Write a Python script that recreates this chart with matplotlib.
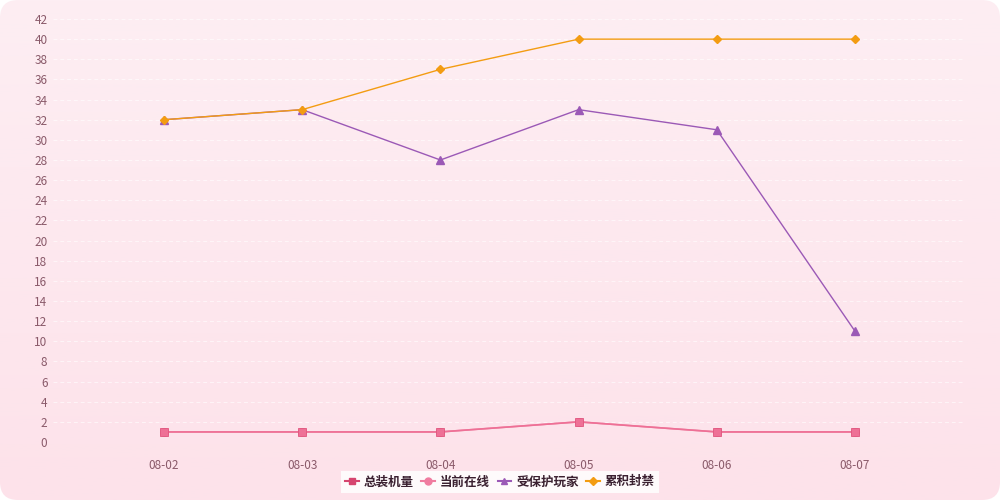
import numpy as np
import matplotlib
matplotlib.use("Agg")
import matplotlib.pyplot as plt
from matplotlib.patches import FancyBboxPatch
from matplotlib.lines import Line2D

plt.rcParams['font.family'] = ['Noto Sans CJK SC', 'DejaVu Sans']

dates = ["08-02", "08-03", "08-04", "08-05", "08-06", "08-07"]
total_installs = [1, 1, 1, 2, 1, 1]
online_now = [1, 1, 1, 2, 1, 1]
protected_players = [32, 33, 28, 33, 31, 11]
cumulative_bans = [32, 33, 37, 40, 40, 40]
series_names = ["总装机量", "当前在线", "受保护玩家", "累积封禁"]
yticks = list(range(0, 43, 2))

W, H = 1000, 500
fig = plt.figure(figsize=(W / 100, H / 100), dpi=100)
fig.patch.set_facecolor('white')

# gradient rounded background
bg = fig.add_axes([0, 0, 1, 1], zorder=-10)
bg.set_xlim(0, W); bg.set_ylim(0, H); bg.axis('off')
grad = np.linspace(0, 1, 256).reshape(-1, 1)
top = np.array([0xfd, 0xee, 0xf3]) / 255
bot = np.array([0xfd, 0xe2, 0xea]) / 255
img = top[None, None, :] * (1 - grad[:, :, None]) + bot[None, None, :] * grad[:, :, None]
im = bg.imshow(img, extent=[0, W, 0, H], aspect='auto', origin='upper')
clip = FancyBboxPatch((0, 0), W, H, boxstyle="round,pad=0,rounding_size=18",
                      transform=bg.transData, facecolor='none', edgecolor='none')
bg.add_patch(clip)
im.set_clip_path(clip)

# plot area: x 53..965 px, y 19..442 px (from top)
left, right = 53 / W, 965 / W
bottom, topy = (H - 442) / H, (H - 19) / H
ax = fig.add_axes([left, bottom, right - left, topy - bottom])
ax.set_facecolor('none')
x = np.arange(len(dates))
ax.set_xlim((53 - 164) / 138.2, 5 + (965 - 855) / 138.2)
ax.set_ylim(0, 42)
ax.set_yticks(yticks)
ax.set_xticks(x)
ax.set_xticklabels(dates)
for s in ax.spines.values():
    s.set_visible(False)
ax.tick_params(axis='both', length=0, colors='#8a5a6a', labelsize=8.5)
ax.tick_params(axis='x', pad=12)
ax.yaxis.set_tick_params(pad=4)
ax.grid(axis='y', color='white', linestyle=(0, (4, 3)), linewidth=0.7, alpha=0.6)
ax.set_axisbelow(True)

c_total = '#ee7096'
c_online = '#f08aa8'
c_prot = '#9b59b6'
c_ban = '#f39c12'

ax.plot(x, online_now, color=c_online, marker='o', markersize=5.5, linewidth=1.2, zorder=3)
ax.plot(x, total_installs, color=c_total, marker='s', markersize=6, linewidth=1.2,
        markeredgecolor='#e0557e', markeredgewidth=0.6, zorder=4)
ax.plot(x, protected_players, color=c_prot, marker='^', markersize=5.5, linewidth=1.0, zorder=5)
ax.plot(x, cumulative_bans, color=c_ban, marker='D', markersize=4, linewidth=1.0, zorder=6)

handles = [
    Line2D([], [], color='#d6456f', marker='s', markersize=5, linewidth=1.5),
    Line2D([], [], color='#f07ca0', marker='o', markersize=5, linewidth=1.5),
    Line2D([], [], color=c_prot, marker='^', markersize=5, linewidth=1.5),
    Line2D([], [], color=c_ban, marker='D', markersize=4, linewidth=1.5),
]
leg = fig.legend(handles, series_names, loc='center', bbox_to_anchor=(0.5, 1 - 482 / H),
                 ncol=4, frameon=True, fontsize=9, handlelength=1.1, handletextpad=0.4,
                 columnspacing=0.6, borderpad=0.35, borderaxespad=0, fancybox=False)
leg.get_frame().set_facecolor('white')
leg.get_frame().set_edgecolor('none')
leg.get_frame().set_alpha(0.85)
for t in leg.get_texts():
    t.set_color('#3a2030')
    t.set_fontweight('bold')

fig.savefig('out.png', dpi=100)
